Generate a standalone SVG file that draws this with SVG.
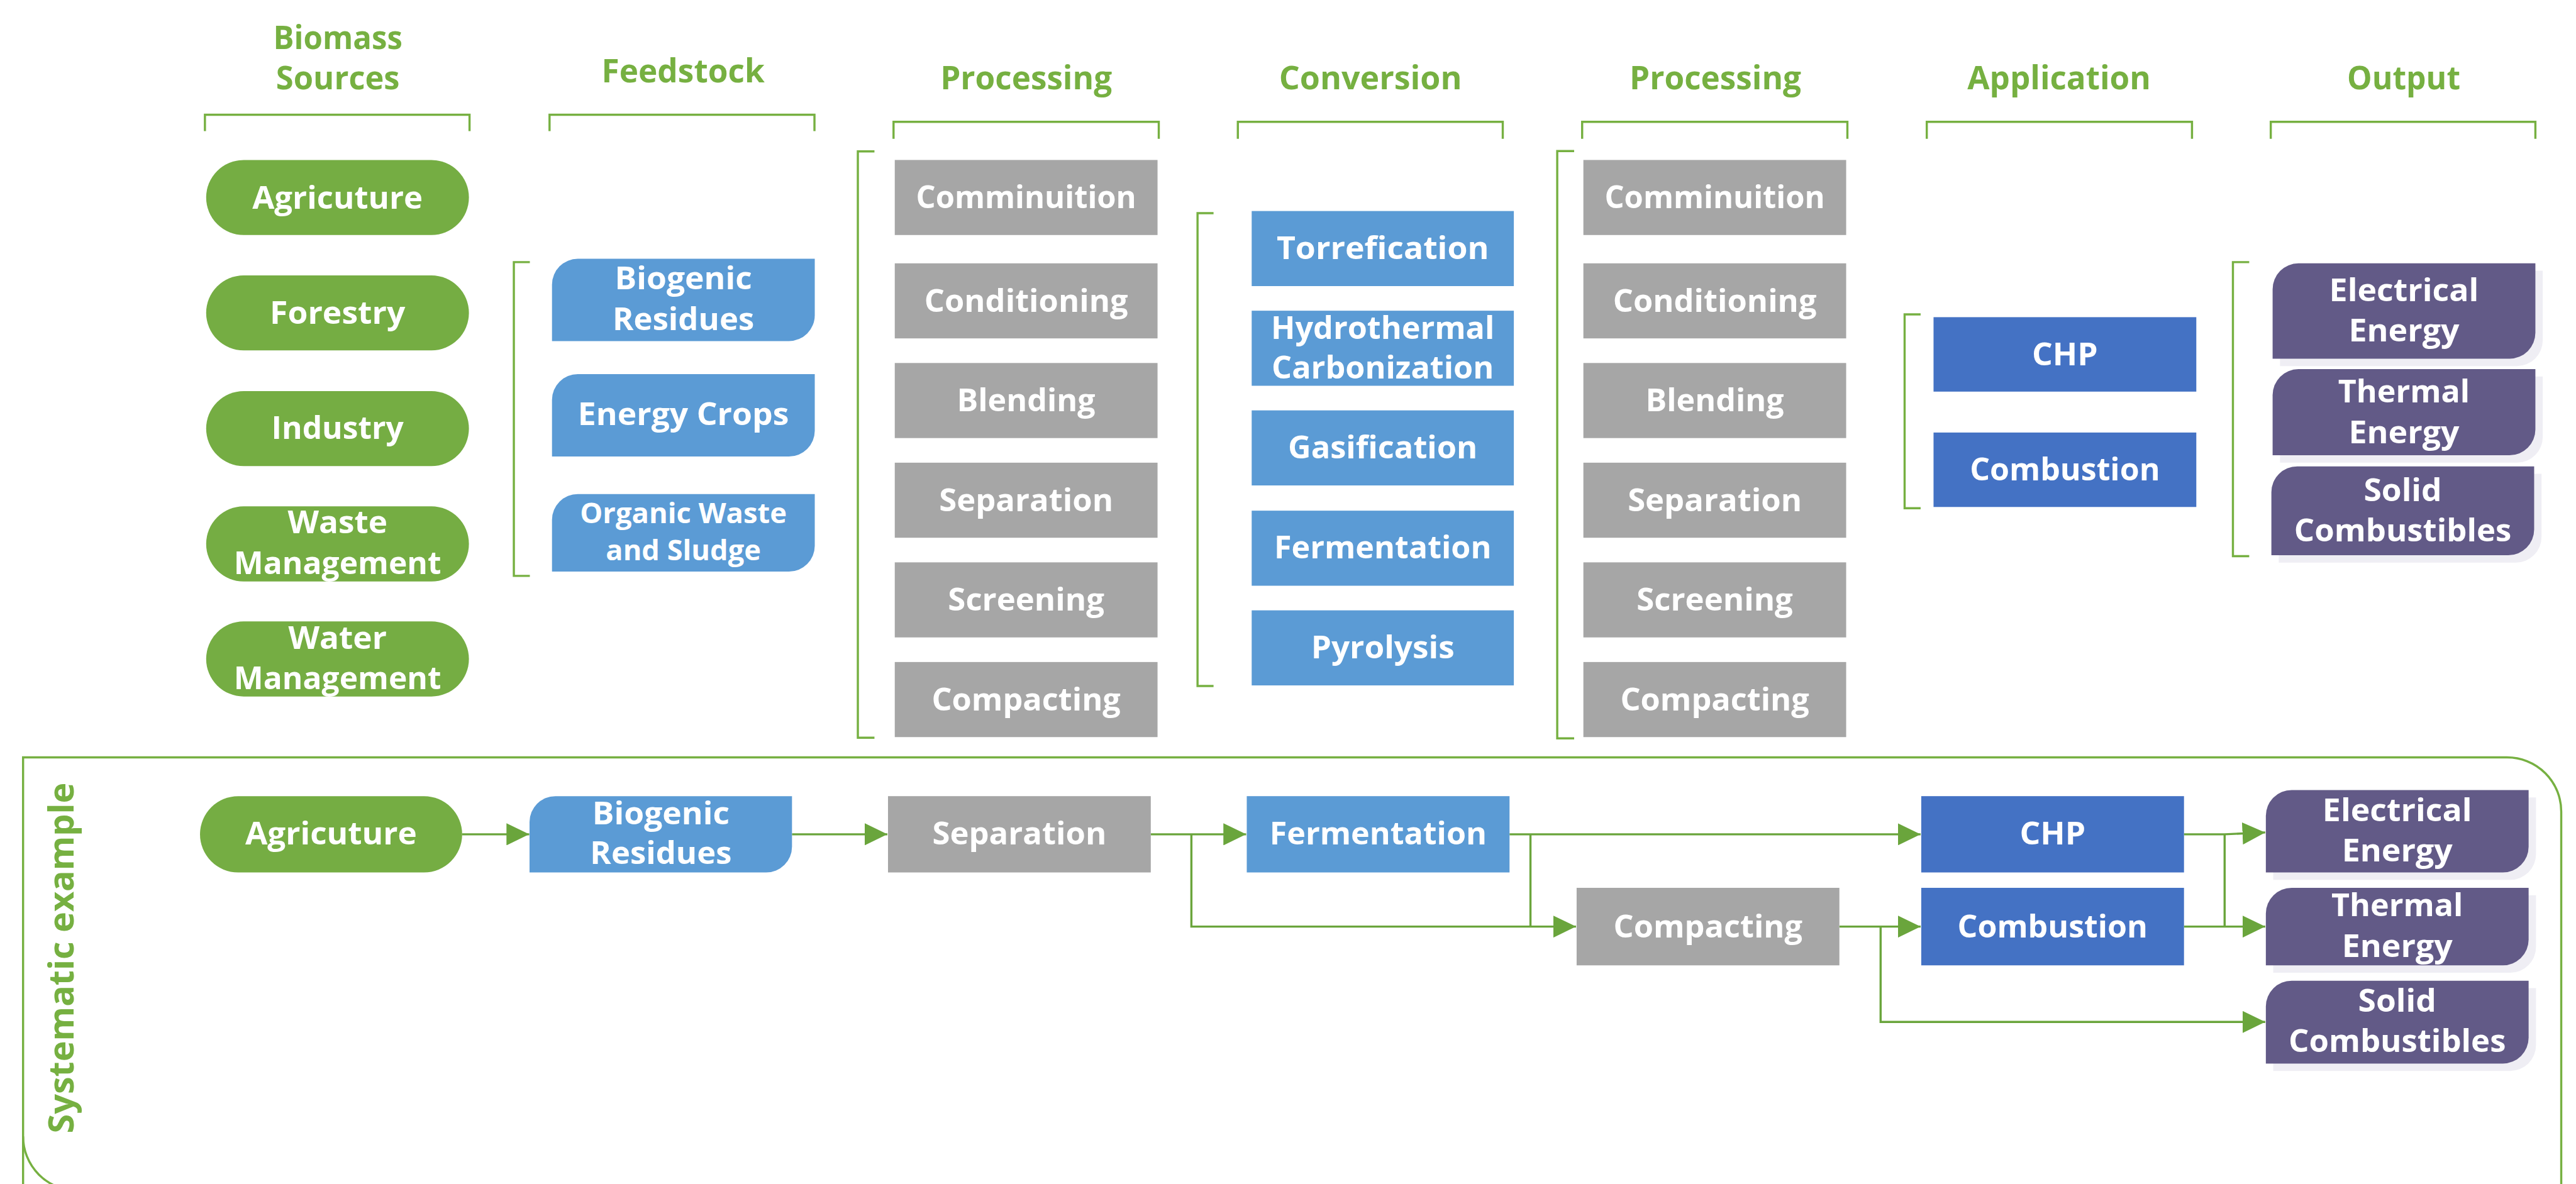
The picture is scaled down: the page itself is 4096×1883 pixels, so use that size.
<svg xmlns="http://www.w3.org/2000/svg" width="4096" height="1883" viewBox="0 0 4096 1883">
  <defs>
    <style>
      .pill { fill: #75ad43; }
      .feed { fill: #5b9bd5; }
      .proc { fill: #a6a6a6; }
      .app { fill: #4472c4; }
      .out { fill: #625a87; }
      .shadow { fill: #efeef4; }
      .lbl { font-family: "Open Sans", "Noto Sans", "DejaVu Sans", sans-serif; font-weight: 700; font-size: 52px; fill: #ffffff; text-anchor: middle; }
      .small { font-size: 46px; }
      .hdr { font-family: "Open Sans", "Noto Sans", "DejaVu Sans", sans-serif; font-weight: 700; font-size: 53px; fill: #76b041; text-anchor: middle; }
      .brk { fill: none; stroke: #76b041; stroke-width: 3.5; }
      .frame { fill: none; stroke: #76b041; stroke-width: 3.5; }
      .conn { fill: none; stroke: #6aa53c; stroke-width: 3.5; }
      .arrow { marker-end: url(#arr); }
    </style>
    <marker id="arr" markerUnits="userSpaceOnUse" viewBox="0 0 37 36" markerWidth="37" markerHeight="36" refX="37" refY="18" orient="auto">
      <path d="M0,0 L37,18 L0,36 Z" fill="#6aa53c"/>
    </marker>
  </defs>
  <rect width="4096" height="1883" fill="#ffffff"/>
  <g transform="scale(0.9785)">

    <!-- column headers -->
    <g id="headers">
      <text class="hdr" x="549" y="80" textLength="210" lengthAdjust="spacingAndGlyphs">Biomass</text>
      <text class="hdr" x="549" y="145" textLength="201" lengthAdjust="spacingAndGlyphs">Sources</text>
      <text class="hdr" x="1110" y="134" textLength="265" lengthAdjust="spacingAndGlyphs">Feedstock</text>
      <text class="hdr" x="1667.5" y="145" textLength="279" lengthAdjust="spacingAndGlyphs">Processing</text>
      <text class="hdr" x="2227" y="145">Conversion</text>
      <text class="hdr" x="2787.5" y="145" textLength="279" lengthAdjust="spacingAndGlyphs">Processing</text>
      <text class="hdr" x="3346" y="145" textLength="298" lengthAdjust="spacingAndGlyphs">Application</text>
      <text class="hdr" x="3906" y="145" textLength="184" lengthAdjust="spacingAndGlyphs">Output</text>
    </g>

    <!-- header brackets and column-side brackets -->
    <g id="brackets">
      <path class="brk" d="M333,213 V186.5 H763 V213"/>
      <path class="brk" d="M893,213 V186.5 H1323.5 V213"/>
      <path class="brk" d="M1452,225.5 V198 H1883 V225.5"/>
      <path class="brk" d="M2011.5,225.5 V198 H2442 V225.5"/>
      <path class="brk" d="M2571,225.5 V198 H3002 V225.5"/>
      <path class="brk" d="M3131,225.5 V198 H3562 V225.5"/>
      <path class="brk" d="M3690,225.5 V198 H4120 V225.5"/>
      <path class="brk" d="M861,426 H835 V936 H861"/>
      <path class="brk" d="M1421,246 H1394 V1199 H1421"/>
      <path class="brk" d="M1972,346.5 H1946 V1115 H1972"/>
      <path class="brk" d="M2558,245.5 H2530.5 V1200 H2558"/>
      <path class="brk" d="M3121,511 H3095 V826 H3121"/>
      <path class="brk" d="M3655,426 H3628.5 V904 H3655"/>
    </g>

    <!-- Biomass sources -->
    <g id="src-agriculture">
      <rect class="pill" x="335" y="260" width="427" height="122" rx="61"/>
      <text class="lbl" x="548.5" y="339" textLength="277" lengthAdjust="spacingAndGlyphs">Agricuture</text>
    </g>
    <g id="src-forestry">
      <rect class="pill" x="335" y="447.6" width="427" height="122" rx="61"/>
      <text class="lbl" x="548.5" y="526" textLength="220" lengthAdjust="spacingAndGlyphs">Forestry</text>
    </g>
    <g id="src-industry">
      <rect class="pill" x="335" y="635.6" width="427" height="122" rx="61"/>
      <text class="lbl" x="548.5" y="713.5" textLength="215" lengthAdjust="spacingAndGlyphs">Industry</text>
    </g>
    <g id="src-waste">
      <rect class="pill" x="335" y="823" width="427" height="122" rx="61"/>
      <text class="lbl" x="548.5" y="867" textLength="162" lengthAdjust="spacingAndGlyphs">Waste</text>
      <text class="lbl" x="548.5" y="933" textLength="337" lengthAdjust="spacingAndGlyphs">Management</text>
    </g>
    <g id="src-water">
      <rect class="pill" x="335" y="1010" width="427" height="122" rx="61"/>
      <text class="lbl" x="548.5" y="1055" textLength="160" lengthAdjust="spacingAndGlyphs">Water</text>
      <text class="lbl" x="548.5" y="1120" textLength="337" lengthAdjust="spacingAndGlyphs">Management</text>
    </g>

    <!-- Feedstock -->
    <g id="feed-biogenic">
      <path class="feed" d="M939,420.6 H1324 V512.4 A42,42 0 0 1 1282,554.4 H897 V462.6 A42,42 0 0 1 939,420.6 Z"/>
      <text class="lbl" x="1110.5" y="470" textLength="223" lengthAdjust="spacingAndGlyphs">Biogenic</text>
      <text class="lbl" x="1110.5" y="537" textLength="230" lengthAdjust="spacingAndGlyphs">Residues</text>
    </g>
    <g id="feed-crops">
      <path class="feed" d="M939,608 H1324 V700 A42,42 0 0 1 1282,742 H897 V650 A42,42 0 0 1 939,608 Z"/>
      <text class="lbl" x="1110.5" y="691" textLength="343" lengthAdjust="spacingAndGlyphs">Energy Crops</text>
    </g>
    <g id="feed-organic">
      <path class="feed" d="M939,803 H1324 V887 A42,42 0 0 1 1282,929 H897 V845 A42,42 0 0 1 939,803 Z"/>
      <text class="lbl small" x="1110.5" y="850" textLength="336" lengthAdjust="spacingAndGlyphs">Organic Waste</text>
      <text class="lbl small" x="1110.5" y="911" textLength="252" lengthAdjust="spacingAndGlyphs">and Sludge</text>
    </g>

    <!-- Processing (first stage) -->
    <g id="proc1-comminuition">
      <rect class="proc" x="1454" y="260" width="427" height="122"/>
      <text class="lbl" x="1667.5" y="338.5" textLength="358" lengthAdjust="spacingAndGlyphs">Comminuition</text>
    </g>
    <g id="proc1-conditioning">
      <rect class="proc" x="1454" y="428" width="427" height="122"/>
      <text class="lbl" x="1667.5" y="506.5" textLength="331" lengthAdjust="spacingAndGlyphs">Conditioning</text>
    </g>
    <g id="proc1-blending">
      <rect class="proc" x="1454" y="590" width="427" height="122"/>
      <text class="lbl" x="1667.5" y="668.5" textLength="225" lengthAdjust="spacingAndGlyphs">Blending</text>
    </g>
    <g id="proc1-separation">
      <rect class="proc" x="1454" y="752" width="427" height="122"/>
      <text class="lbl" x="1667.5" y="830.5" textLength="283" lengthAdjust="spacingAndGlyphs">Separation</text>
    </g>
    <g id="proc1-screening">
      <rect class="proc" x="1454" y="914" width="427" height="122"/>
      <text class="lbl" x="1667.5" y="992.5" textLength="254" lengthAdjust="spacingAndGlyphs">Screening</text>
    </g>
    <g id="proc1-compacting">
      <rect class="proc" x="1454" y="1076" width="427" height="122"/>
      <text class="lbl" x="1667.5" y="1154.5" textLength="307" lengthAdjust="spacingAndGlyphs">Compacting</text>
    </g>

    <!-- Conversion -->
    <g id="conv-torrefication">
      <rect class="feed" x="2034" y="343" width="426" height="122"/>
      <text class="lbl" x="2247" y="421.5" textLength="345" lengthAdjust="spacingAndGlyphs">Torrefication</text>
    </g>
    <g id="conv-htc">
      <rect class="feed" x="2034" y="505" width="426" height="122"/>
      <text class="lbl" x="2247" y="550.5" textLength="363" lengthAdjust="spacingAndGlyphs">Hydrothermal</text>
      <text class="lbl" x="2247" y="615" textLength="361" lengthAdjust="spacingAndGlyphs">Carbonization</text>
    </g>
    <g id="conv-gasification">
      <rect class="feed" x="2034" y="667" width="426" height="122"/>
      <text class="lbl" x="2247" y="745.5" textLength="308" lengthAdjust="spacingAndGlyphs">Gasification</text>
    </g>
    <g id="conv-fermentation">
      <rect class="feed" x="2034" y="830" width="426" height="122"/>
      <text class="lbl" x="2247" y="908" textLength="353" lengthAdjust="spacingAndGlyphs">Fermentation</text>
    </g>
    <g id="conv-pyrolysis">
      <rect class="feed" x="2034" y="992" width="426" height="122"/>
      <text class="lbl" x="2247" y="1070" textLength="233" lengthAdjust="spacingAndGlyphs">Pyrolysis</text>
    </g>

    <!-- Processing (second stage) -->
    <g id="proc2-comminuition">
      <rect class="proc" x="2573" y="260" width="427" height="122"/>
      <text class="lbl" x="2786.5" y="338.5" textLength="358" lengthAdjust="spacingAndGlyphs">Comminuition</text>
    </g>
    <g id="proc2-conditioning">
      <rect class="proc" x="2573" y="428" width="427" height="122"/>
      <text class="lbl" x="2786.5" y="506.5" textLength="331" lengthAdjust="spacingAndGlyphs">Conditioning</text>
    </g>
    <g id="proc2-blending">
      <rect class="proc" x="2573" y="590" width="427" height="122"/>
      <text class="lbl" x="2786.5" y="668.5" textLength="225" lengthAdjust="spacingAndGlyphs">Blending</text>
    </g>
    <g id="proc2-separation">
      <rect class="proc" x="2573" y="752" width="427" height="122"/>
      <text class="lbl" x="2786.5" y="830.5" textLength="283" lengthAdjust="spacingAndGlyphs">Separation</text>
    </g>
    <g id="proc2-screening">
      <rect class="proc" x="2573" y="914" width="427" height="122"/>
      <text class="lbl" x="2786.5" y="992.5" textLength="254" lengthAdjust="spacingAndGlyphs">Screening</text>
    </g>
    <g id="proc2-compacting">
      <rect class="proc" x="2573" y="1076" width="427" height="122"/>
      <text class="lbl" x="2786.5" y="1154.5" textLength="307" lengthAdjust="spacingAndGlyphs">Compacting</text>
    </g>

    <!-- Application -->
    <g id="app-chp">
      <rect class="app" x="3142" y="515.5" width="427" height="121"/>
      <text class="lbl" x="3355.5" y="594" textLength="107" lengthAdjust="spacingAndGlyphs">CHP</text>
    </g>
    <g id="app-combustion">
      <rect class="app" x="3142" y="703" width="427" height="121"/>
      <text class="lbl" x="3355.5" y="780.5" textLength="309" lengthAdjust="spacingAndGlyphs">Combustion</text>
    </g>

    <!-- Output -->
    <g id="out-electrical">
      <path class="shadow" d="M3747,440 H4132 V553 A42,42 0 0 1 4090,595 H3705 V482 A42,42 0 0 1 3747,440 Z"/>
      <path class="out" d="M3735,428 H4120 V541 A42,42 0 0 1 4078,583 H3693 V470 A42,42 0 0 1 3735,428 Z"/>
      <text class="lbl" x="3906.5" y="490" textLength="243" lengthAdjust="spacingAndGlyphs">Electrical</text>
      <text class="lbl" x="3906.5" y="555" textLength="180" lengthAdjust="spacingAndGlyphs">Energy</text>
    </g>
    <g id="out-thermal">
      <path class="shadow" d="M3747,612 H4132 V710 A42,42 0 0 1 4090,752 H3705 V654 A42,42 0 0 1 3747,612 Z"/>
      <path class="out" d="M3735,600 H4120 V698 A42,42 0 0 1 4078,740 H3693 V642 A42,42 0 0 1 3735,600 Z"/>
      <text class="lbl" x="3906.5" y="654" textLength="214" lengthAdjust="spacingAndGlyphs">Thermal</text>
      <text class="lbl" x="3906.5" y="720.5" textLength="180" lengthAdjust="spacingAndGlyphs">Energy</text>
    </g>
    <g id="out-solid">
      <path class="shadow" d="M3745,770 H4130 V872.5 A42,42 0 0 1 4088,914.5 H3703 V812 A42,42 0 0 1 3745,770 Z"/>
      <path class="out" d="M3733,758 H4118 V860.5 A42,42 0 0 1 4076,902.5 H3691 V800 A42,42 0 0 1 3733,758 Z"/>
      <text class="lbl" x="3904.5" y="815" textLength="127" lengthAdjust="spacingAndGlyphs">Solid</text>
      <text class="lbl" x="3904.5" y="880" textLength="353" lengthAdjust="spacingAndGlyphs">Combustibles</text>
    </g>

    <!-- Systematic example panel -->
    <g id="example-frame">
      <path class="frame" d="M37.5,1935 V1231 H4074 A88,88 0 0 1 4162,1319 V1935"/>
      <path class="frame" d="M37.5,1847 A88,88 0 0 0 125.5,1935"/>
      <text transform="translate(120,1557) rotate(-90)" font-family="'Open Sans', 'Noto Sans', 'DejaVu Sans', sans-serif" font-weight="700" font-size="56" fill="#76b041" text-anchor="middle" textLength="570" lengthAdjust="spacingAndGlyphs">Systematic example</text>
    </g>

    <!-- connectors of the example chain -->
    <g id="connectors">
      <path class="conn arrow" d="M751,1356 H860"/>
      <path class="conn arrow" d="M1287,1356 H1442"/>
      <path class="conn arrow" d="M1870,1356 H2025"/>
      <path class="conn arrow" d="M1936,1356 V1506 H2561"/>
      <path class="conn" d="M2487,1356 V1506"/>
      <path class="conn arrow" d="M2453,1356 H3121"/>
      <path class="conn arrow" d="M2989,1506 H3121"/>
      <path class="conn arrow" d="M3056,1506 V1661 H3681"/>
      <path class="conn arrow" d="M3549,1356 H3615 L3681,1353"/>
      <path class="conn" d="M3615,1356 V1506"/>
      <path class="conn arrow" d="M3549,1506 H3681"/>
    </g>

    <g id="ex-agriculture">
      <rect class="pill" x="325" y="1294" width="426" height="124" rx="62"/>
      <text class="lbl" x="538" y="1373" textLength="279" lengthAdjust="spacingAndGlyphs">Agricuture</text>
    </g>
    <g id="ex-biogenic">
      <path class="feed" d="M902.5,1294 H1287 V1376 A42,42 0 0 1 1245,1418 H860.5 V1336 A42,42 0 0 1 902.5,1294 Z"/>
      <text class="lbl" x="1074" y="1340" textLength="223" lengthAdjust="spacingAndGlyphs">Biogenic</text>
      <text class="lbl" x="1074" y="1404" textLength="230" lengthAdjust="spacingAndGlyphs">Residues</text>
    </g>
    <g id="ex-separation">
      <rect class="proc" x="1443" y="1294" width="427" height="124"/>
      <text class="lbl" x="1656.5" y="1373" textLength="283" lengthAdjust="spacingAndGlyphs">Separation</text>
    </g>
    <g id="ex-fermentation">
      <rect class="feed" x="2026" y="1294" width="427" height="124"/>
      <text class="lbl" x="2239.5" y="1373" textLength="353" lengthAdjust="spacingAndGlyphs">Fermentation</text>
    </g>
    <g id="ex-compacting">
      <rect class="proc" x="2562" y="1443" width="427" height="126"/>
      <text class="lbl" x="2775.5" y="1524" textLength="307" lengthAdjust="spacingAndGlyphs">Compacting</text>
    </g>
    <g id="ex-chp">
      <rect class="app" x="3122" y="1294" width="427" height="124"/>
      <text class="lbl" x="3335.5" y="1373" textLength="107" lengthAdjust="spacingAndGlyphs">CHP</text>
    </g>
    <g id="ex-combustion">
      <rect class="app" x="3122" y="1443" width="427" height="126"/>
      <text class="lbl" x="3335.5" y="1524" textLength="309" lengthAdjust="spacingAndGlyphs">Combustion</text>
    </g>
    <g id="ex-electrical">
      <path class="shadow" d="M3736,1296 H4121 V1388 A42,42 0 0 1 4079,1430 H3694 V1338 A42,42 0 0 1 3736,1296 Z"/>
      <path class="out" d="M3724,1284 H4109 V1376 A42,42 0 0 1 4067,1418 H3682 V1326 A42,42 0 0 1 3724,1284 Z"/>
      <text class="lbl" x="3895.5" y="1335" textLength="243" lengthAdjust="spacingAndGlyphs">Electrical</text>
      <text class="lbl" x="3895.5" y="1400" textLength="180" lengthAdjust="spacingAndGlyphs">Energy</text>
    </g>
    <g id="ex-thermal">
      <path class="shadow" d="M3736,1455 H4121 V1539 A42,42 0 0 1 4079,1581 H3694 V1497 A42,42 0 0 1 3736,1455 Z"/>
      <path class="out" d="M3724,1443 H4109 V1527 A42,42 0 0 1 4067,1569 H3682 V1485 A42,42 0 0 1 3724,1443 Z"/>
      <text class="lbl" x="3895.5" y="1489" textLength="214" lengthAdjust="spacingAndGlyphs">Thermal</text>
      <text class="lbl" x="3895.5" y="1555" textLength="180" lengthAdjust="spacingAndGlyphs">Energy</text>
    </g>
    <g id="ex-solid">
      <path class="shadow" d="M3736,1606 H4121 V1698.6 A42,42 0 0 1 4079,1740.6 H3694 V1648 A42,42 0 0 1 3736,1606 Z"/>
      <path class="out" d="M3724,1594 H4109 V1686.6 A42,42 0 0 1 4067,1728.6 H3682 V1636 A42,42 0 0 1 3724,1594 Z"/>
      <text class="lbl" x="3895.5" y="1644" textLength="127" lengthAdjust="spacingAndGlyphs">Solid</text>
      <text class="lbl" x="3895.5" y="1710" textLength="353" lengthAdjust="spacingAndGlyphs">Combustibles</text>
    </g>
  </g>
</svg>
